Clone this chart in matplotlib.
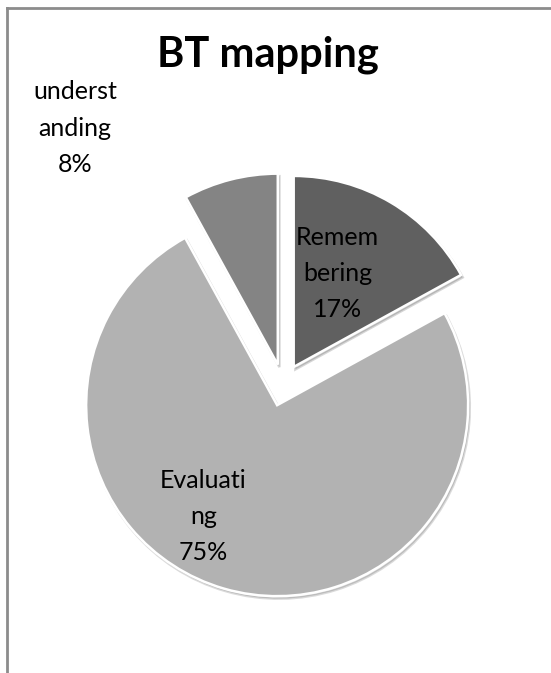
import matplotlib
matplotlib.use("Agg")
import matplotlib.pyplot as plt
import numpy as np

# data
names = ["Remem\nbering", "Evaluati\nng", "underst\nanding"]
shares = [17, 75, 8]
colors = ["#606060", "#b2b2b2", "#848484"]

# label placement relative to each wedge's own centre: (radius fraction, angle deg)
label_pos = [(0.54, 64.7), (0.70, 236.5), (1.63, 130.6)]

W, H = 551, 673
R = 191
cx, cy = 283, H - 385
gap = 21  # explode offset, in pixels (data units here)

plt.rcParams['font.family'] = ['Lato', 'DejaVu Sans']

fig = plt.figure(figsize=(W / 100, H / 100), dpi=100)
ax = fig.add_axes([0, 0, 1, 1])

wedges, _ = ax.pie(shares, colors=colors, startangle=90, counterclock=False,
                   explode=[gap] * len(shares), radius=R, center=(cx, cy),
                   wedgeprops=dict(edgecolor="white", linewidth=1.8),
                   shadow=dict(ox=1.2, oy=-1.8, alpha=0.18))

for w, name, s, (rf, ang) in zip(wedges, names, shares, label_pos):
    x0, y0 = w.center
    a = np.radians(ang)
    ax.text(x0 + rf * R * np.cos(a), y0 + rf * R * np.sin(a),
            "%s\n%d%%" % (name, s), ha="center", va="center",
            fontsize=18, color="black", linespacing=1.7, multialignment="center")

ax.set_xlim(0, W)
ax.set_ylim(0, H)
ax.set_aspect("auto")
ax.axis("off")

ax.text(268, H - 55, "BT mapping", ha="center", va="center",
        fontsize=30, fontweight="bold", color="black")

# chart frame (left and top edge visible)
ax.plot([7, 7], [0, H - 8], color="#8c8c8c", lw=2, clip_on=False)
ax.plot([7, W], [H - 8, H - 8], color="#8c8c8c", lw=2, clip_on=False)

fig.savefig("out.png", dpi=100)
